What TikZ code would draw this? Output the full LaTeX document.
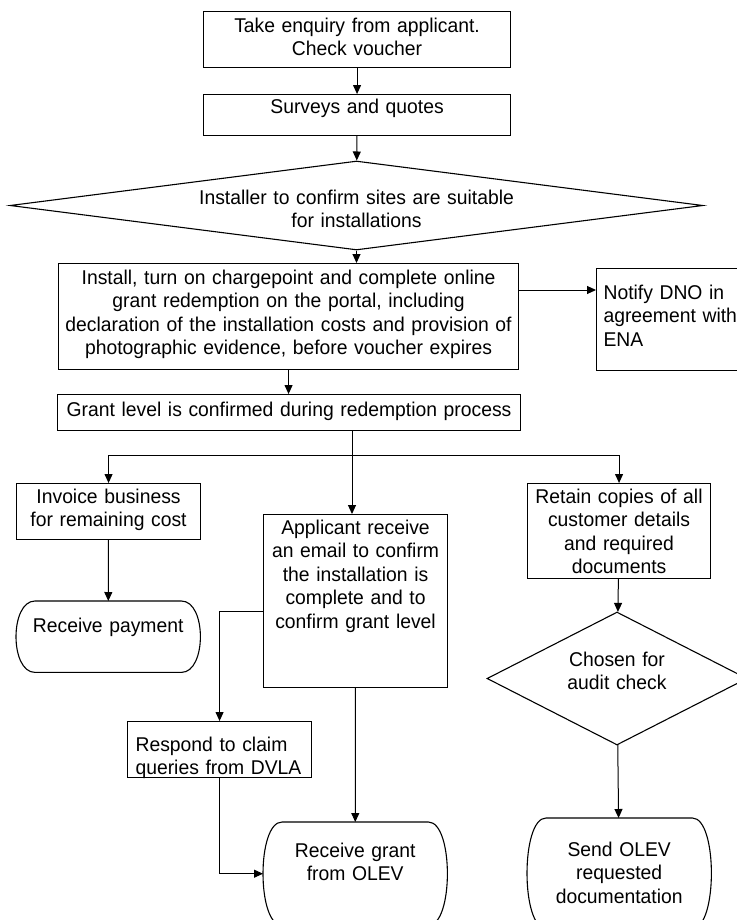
\documentclass[tikz,border=0pt]{standalone}
\usepackage{fontspec}
\setmainfont{Liberation Sans}[FakeStretch=0.97]
\usetikzlibrary{shapes.geometric,arrows.meta}

\tikzstyle{block} = [draw, line width=1.1bp, rectangle, anchor=north west, inner sep=0pt, align=center]
\tikzstyle{terminal} = [rectangle, anchor=north west, inner sep=0pt, align=center]
\tikzstyle{decision} = [draw, line width=1.1bp, diamond, inner sep=0pt, align=center]
\tikzstyle{conn} = [draw, line width=1bp]
\tikzstyle{flow} = [conn, -{Triangle[length=9bp,width=8bp]}]
\tikzset{dims/.style n args={3}{text width=#1bp, text height=#2bp, text depth=#3bp}}

% rounded ends of a terminal box
\newcommand{\termedge}[1]{%
  \draw[line width=1.1bp] ([xshift=19bp]#1.north west) -- ([xshift=-19bp]#1.north east)
    .. controls ([xshift=6.33bp]#1.north east) and ([xshift=6.33bp]#1.south east) .. ([xshift=-19bp]#1.south east)
    -- ([xshift=19bp]#1.south west)
    .. controls ([xshift=-6.33bp]#1.south west) and ([xshift=-6.33bp]#1.north west) .. cycle;}

\begin{document}
\begin{tikzpicture}[x=1bp, y=-1bp, font=\fontsize{20}{23.5}\selectfont]
\useasboundingbox (0,0) rectangle (737,920);
\clip (0,0) rectangle (737,920);
%begin top chain
\node[block, dims={307}{21}{35}] (enquiry) at (203,11) {Take enquiry from applicant.\\Check voucher};
\node[block, dims={307}{19}{22}] (surveys) at (203,94) {Surveys and quotes};
\node[decision, minimum width=693bp, minimum height=89bp, aspect=7.8, dims={340}{15}{18}] (suitable) at (356.5,205.5)
    {Installer to confirm sites are suitable\\for installations};
\node[block, dims={460}{21}{85}] (install) at (58,263)
    {Install, turn on chargepoint and complete online\\grant redemption on the portal, including\\declaration of the installation costs and provision of\\photographic evidence, before voucher expires};
\node[block, align=left, inner xsep=7bp, dims={146}{31}{71}] (notify) at (596,268) {Notify DNO in\\agreement with\\ENA};
\node[block, dims={463}{22}{14}] (grant) at (57,394) {Grant level is confirmed during redemption process};
%end top chain
%begin left branch
\node[block, dims={184}{20}{36}] (invoice) at (16,483) {Invoice business\\for remaining cost};
\node[terminal, dims={184}{31}{40}] (payment) at (16,601) {Receive payment};
\termedge{payment}
%end left branch
%begin middle branch
\node[block, dims={184}{20}{153}] (applicant) at (263,514)
    {Applicant receive\\an email to confirm\\the installation is\\complete and to\\confirm grant level};
\node[block, align=left, inner xsep=8bp, dims={168}{30}{26}] (respond) at (127,721) {Respond to claim\\queries from DVLA};
\node[terminal, dims={184}{35}{68}] (grantrecv) at (263,822) {Receive grant\\from OLEV};
\termedge{grantrecv}
%end middle branch
%begin right branch
\node[block, dims={183}{20}{75}] (retain) at (527,483)
    {Retain copies of all\\customer details\\and required\\documents};
\node[decision, minimum width=260bp, minimum height=133bp, aspect=1.95, dims={120}{15}{40}] (audit) at (617,678.5)
    {Chosen for\\audit check};
\node[terminal, dims={184}{38}{72}] (sendolev) at (527,818) {Send OLEV\\requested\\documentation};
\termedge{sendolev}
%end right branch
%begin connectors
\draw[flow] (enquiry) -- (surveys);
\draw[flow] (surveys) -- (suitable);
\draw[flow] (suitable.south) -- (suitable.south |- install.north);
\coordinate (feed) at ([yshift=-27bp]install.north east);
\draw[flow] (feed) -- (feed -| notify.west);
\draw[flow] (install.south) -- (install.south |- grant.north);
\coordinate (split) at (352,455);
\draw[conn] (split |- grant.south) -- (split);
\draw[flow] (split) -- (split |- applicant.north);
\draw[flow] (split) -| (invoice.north);
\draw[flow] (split) -| (retain.north);
\draw[flow] (invoice) -- (payment);
\coordinate (query) at ([yshift=-97bp]applicant.north west);
\draw[flow] (query) -| (respond.north);
\draw[flow] (respond.south) |- (grantrecv.west);
\draw[flow] (applicant) -- (grantrecv);
\draw[flow] (retain) -- (audit);
\draw[flow] (audit) -- (sendolev);
%end connectors
\end{tikzpicture}
\end{document}
